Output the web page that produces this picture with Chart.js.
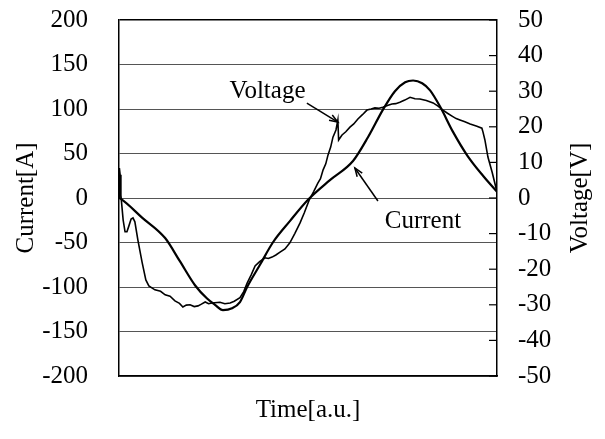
<!DOCTYPE html>
<html>
<head>
<meta charset="utf-8">
<script src="https://cdn.jsdelivr.net/npm/chart.js@4"></script>
<style>
  html, body { margin: 0; padding: 0; background: #fff; }
  #wrap { width: 605px; height: 439px; }
</style>
</head>
<body>
<div id="wrap"><canvas id="chart" width="605" height="439"></canvas></div>
<script>
// ---- data (time in a.u., current in A, voltage in V) ----
const currentTime = [0, 0.5, 6.1, 12.2, 16.1, 20.1, 23.3, 25.4, 27.5, 29.9, 32.0, 33.9, 37.3, 40.7, 45.2, 50.0,
  55.8, 61.9, 65.9, 69.8, 73.0, 75.7, 77.8, 80.2, 82.3, 84.9, 88.4, 92.1, 96.3, 100];
const currentValues = [0, -1, -22, -45, -71, -98, -113, -120, -126, -124, -117, -100, -75, -50, -26, -2,
  20, 41.5, 68.5, 99, 120, 130, 132, 129, 121, 103, 74, 48, 25, 7];

const voltageTime = [0, 0.1, 0.3, 0.5, 1.1, 1.6, 2.1, 2.6, 3.2, 3.7, 4.2, 5.0, 6.1, 7.1, 7.9, 9.5, 11.0, 12.2,
  13.5, 14.8, 16.0, 16.9, 17.8, 18.8, 19.9, 20.9, 21.8, 22.8, 23.7, 24.6, 26.7, 28.0, 29.4, 30.5, 32.0, 33.0,
  33.9, 35.0, 36.0, 37.2, 38.6, 39.5, 40.5, 41.5, 42.6, 43.9, 45.2, 46.5, 47.9, 49.0, 50.3, 51.5, 52.6, 53.3,
  54.0, 54.7, 55.3, 56.0, 56.6, 57.4, 57.9, 58.1, 59.0, 60.0, 61.1, 62.1, 63.2, 64.4, 65.6, 66.7, 67.7, 68.8,
  69.8, 71.0, 72.2, 73.2, 74.3, 75.6, 77.0, 78.3, 79.6, 81.3, 83.1, 84.4, 85.7, 86.9, 88.1, 89.2, 90.2, 91.5,
  92.9, 94.5, 96.0, 96.3, 96.8, 97.6, 98.7, 100];
const voltageValues = [0, 8.4, 6.5, 0.8, -6.2, -9.5, -9.5, -7.9, -5.9, -5.6, -6.7, -11.8, -18, -23, -24.7, -25.8, -26.2, -27.2,
  -27.6, -28.9, -29.6, -30.6, -30.1, -30.0, -30.5, -30.3, -29.8, -29.2, -29.7, -29.5, -29.3, -29.7, -29.5, -29.0, -28.0, -26.3,
  -23.9, -21.5, -19.1, -17.9, -16.8, -17.0, -16.6, -16.0, -15.2, -14.3, -12.6, -10.0, -7.0, -4.2, -0.6, 1.8, 4.2, 5.4,
  7.9, 9.6, 12.1, 14.3, 17.1, 19.1, 21.9, 16.3, 17.7, 18.6, 19.9, 20.8, 22.2, 23.4, 24.7, 25.0, 25.3, 25.2,
  25.5, 26.0, 26.4, 26.5, 26.9, 27.5, 28.3, 27.9, 27.8, 27.4, 26.7, 25.8, 24.7, 23.8, 23.0, 22.3, 21.9, 21.4,
  20.8, 20.2, 19.6, 18.5, 16.3, 11.5, 7.3, 1.7];

const leftTicks = [-200, -150, -100, -50, 0, 50, 100, 150, 200];
const rightTicks = [-50, -40, -30, -20, -10, 0, 10, 20, 30, 40, 50];

const FONT = 'Liberation Serif';

function toPoints(xs, ys) {
  return xs.map(function(x, i) { return { x: x, y: ys[i] }; });
}

// fixed axis sizes, no automatic label padding
function fitY(width) {
  return function(s) {
    s.width = width;
    s.paddingTop = 0;
    s.paddingBottom = 0;
  };
}

// ---- inward tick marks on the right axis, arrow labels, right title ----
const extras = {
  id: 'extras',
  afterDraw: function(chart) {
    const ctx = chart.ctx;
    const xs = chart.scales.x, ys = chart.scales.y, y2 = chart.scales.y2;
    ctx.save();
    ctx.strokeStyle = '#000';
    ctx.lineWidth = 1.2;
    rightTicks.forEach(function(v) {
      const py = y2.getPixelForValue(v);
      ctx.beginPath();
      ctx.moveTo(y2.left - 8, py);
      ctx.lineTo(y2.left, py);
      ctx.stroke();
    });

    function arrow(x0, y0, x1, y1) {
      const ax = xs.getPixelForValue(x0), ay = ys.getPixelForValue(y0);
      const bx = xs.getPixelForValue(x1), by = ys.getPixelForValue(y1);
      ctx.beginPath();
      ctx.moveTo(ax, ay);
      ctx.lineTo(bx, by);
      ctx.stroke();
      const ang = Math.atan2(by - ay, bx - ax);
      ctx.beginPath();
      ctx.moveTo(bx - 9 * Math.cos(ang - 0.35), by - 9 * Math.sin(ang - 0.35));
      ctx.lineTo(bx, by);
      ctx.lineTo(bx - 9 * Math.cos(ang + 0.35), by - 9 * Math.sin(ang + 0.35));
      ctx.stroke();
    }
    ctx.lineWidth = 1.5;
    arrow(49.7, 106.6, 57.9, 85.3);
    arrow(68.5, -3.4, 62.4, 33.7);

    ctx.fillStyle = '#000';
    ctx.font = '25px "' + FONT + '"';
    ctx.textAlign = 'center';
    ctx.textBaseline = 'middle';
    ctx.fillText('Voltage', xs.getPixelForValue(39.3), ys.getPixelForValue(120));
    ctx.fillText('Current', xs.getPixelForValue(80.4), ys.getPixelForValue(-25.8));

    // right axis title reads bottom-to-top like the left one
    ctx.translate(y2.right - 25, (chart.chartArea.top + chart.chartArea.bottom) / 2);
    ctx.rotate(-Math.PI / 2);
    ctx.fillText('Voltage[V]', 0, 0);
    ctx.restore();
  }
};

new Chart(document.getElementById('chart'), {
  type: 'line',
  data: {
    datasets: [{
      label: 'Current',
      data: toPoints(currentTime, currentValues),
      yAxisID: 'y',
      borderColor: '#000',
      borderWidth: 2.2,
      pointRadius: 0,
      cubicInterpolationMode: 'monotone'
    }, {
      label: 'Voltage',
      data: toPoints(voltageTime, voltageValues),
      yAxisID: 'y2',
      borderColor: '#000',
      borderWidth: 1.6,
      pointRadius: 0,
      tension: 0
    }]
  },
  options: {
    responsive: false,
    animation: false,
    layout: { autoPadding: false, padding: { top: 20, right: 0, bottom: 0, left: 0 } },
    plugins: { legend: { display: false }, tooltip: { enabled: false }, title: { display: false } },
    scales: {
      x: {
        type: 'linear', min: 0, max: 100,
        ticks: { display: false },
        grid: { display: false, drawTicks: false },
        border: { display: true, color: '#000', width: 1.5 },
        title: { display: true, text: 'Time[a.u.]', color: '#000', font: { family: FONT, size: 25 }, padding: { top: 0, bottom: 14 } },
        afterFit: function(s) { s.height = 63; s.paddingLeft = 0; s.paddingRight = 0; }
      },
      y: {
        position: 'left', min: -200, max: 200,
        afterBuildTicks: function(s) { s.ticks = leftTicks.map(function(v) { return { value: v }; }); },
        ticks: { color: '#000', font: { family: FONT, size: 25 }, padding: 31 },
        grid: {
          drawTicks: false,
          color: function(c) { return c.tick && c.tick.value === 200 ? '#000' : '#555'; },
          lineWidth: function(c) { return c.tick && c.tick.value === 200 ? 1.5 : 1; }
        },
        border: { color: '#000', width: 1.5 },
        title: { display: true, text: 'Current[A]', color: '#000', font: { family: FONT, size: 25 }, padding: { top: 11, bottom: 0 } },
        afterFit: fitY(119)
      },
      y2: {
        position: 'right', min: -50, max: 50,
        afterBuildTicks: function(s) { s.ticks = rightTicks.map(function(v) { return { value: v }; }); },
        ticks: { color: '#000', font: { family: FONT, size: 25 }, padding: 21 },
        grid: { drawOnChartArea: false, drawTicks: false },
        border: { color: '#000', width: 1.5 },
        title: { display: false, text: 'Voltage[V]' },
        afterFit: fitY(108)
      }
    }
  },
  plugins: [extras]
});
</script>
</body>
</html>
